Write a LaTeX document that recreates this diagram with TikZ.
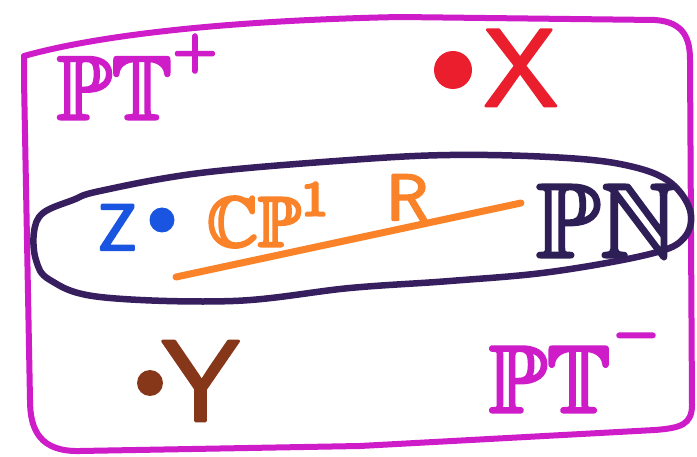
\documentclass[tikz,border=0pt]{standalone}
\usepackage{amssymb}
\definecolor{framemag}{RGB}{205,28,200}
\definecolor{ringpurple}{RGB}{55,30,95}
\definecolor{xred}{RGB}{235,30,45}
\definecolor{zblue}{RGB}{25,85,225}
\definecolor{lorange}{RGB}{250,130,40}
\definecolor{pnnavy}{RGB}{45,30,85}
\definecolor{ybrown}{RGB}{135,55,25}
\newcommand\heavy[2]{\special{pdf:literal direct 2 Tr #1 w 1 J 1 j}#2\special{pdf:literal direct 0 Tr}}
\tikzset{
  lbl/.style={inner sep=0pt, anchor=base west},
  dotmark/.style={circle, inner sep=0pt, minimum size=#1},
  frameline/.style={draw=framemag, line width=6, line cap=round, line join=round},
  ringline/.style={draw=ringpurple, line width=6.5, line join=round},
}
\begin{document}
\begin{tikzpicture}[x=1pt,y=-1pt]
\useasboundingbox (0,0) rectangle (697,457);
\fill[white] (0,0) rectangle (697,457);
% outer frame
\draw[frameline] (24,56) .. controls (110,32) and (250,20) .. (400,17)
  -- (655,20) .. controls (685,22) and (690,40) .. (690,60)
  -- (692,405) .. controls (692,425) and (680,428) .. (655,430)
  -- (360,446) -- (80,451) .. controls (40,452) and (30,430) .. (30,400)
  -- (24,80) -- cycle;
% inner oval
\draw[ringline] plot[smooth cycle, tension=0.6] coordinates {
  (34,232) (43,213) (73,200) (100,191) (200,173) (350,160) (450,155)
  (550,157) (620,164) (667,180) (690,210) (684,238) (650,254) (550,272)
  (450,281) (350,288) (233,301) (100,297) (50,280) (36,260)};
% orange line
\coordinate (la) at (176,277);
\coordinate (lb) at (521,203);
\draw[lorange, line width=7, line cap=round] (la) -- (lb);
% labels
\node[lbl, framemag, scale=9] (ptp) at (55,119) {\heavy{0.35}{$\mathbb{PT}^{\raisebox{1.6pt}{$\scriptscriptstyle +$}}$}};
\node[dotmark=38, fill=xred] (xdot) at (453,70) {};
\node[lbl, xred, scale=11] (xl) at (482,106) {\heavy{0.25}{\sffamily X}};
\node[lbl, zblue, scale=6.5] (zl) at (96,250) {\heavy{0.35}{\sffamily Z}};
\node[dotmark=25, fill=zblue] (zdot) at (162,220) {};
\node[lbl, lorange, scale=7] (cp) at (206,246) {\heavy{0.45}{$\mathbb{CP}^{1}$}};
\node[lbl, lorange, scale=6.5] (rl) at (385,220) {\heavy{0.35}{\sffamily R}};
\node[lbl, pnnavy, scale=10.5] (pn) at (534,257) {\heavy{0.3}{$\mathbb{PN}$}};
\node[dotmark=26, fill=ybrown] (ydot) at (150,383) {};
\node[lbl, ybrown, scale=11.5] (yl) at (160,421) {\heavy{0.25}{\sffamily Y}};
\node[lbl, framemag, scale=9.5] (ptm) at (487,412) {\heavy{0.35}{$\mathbb{PT}^{\raisebox{2.4pt}{$\scriptscriptstyle -$}}$}};
\end{tikzpicture}
\end{document}
